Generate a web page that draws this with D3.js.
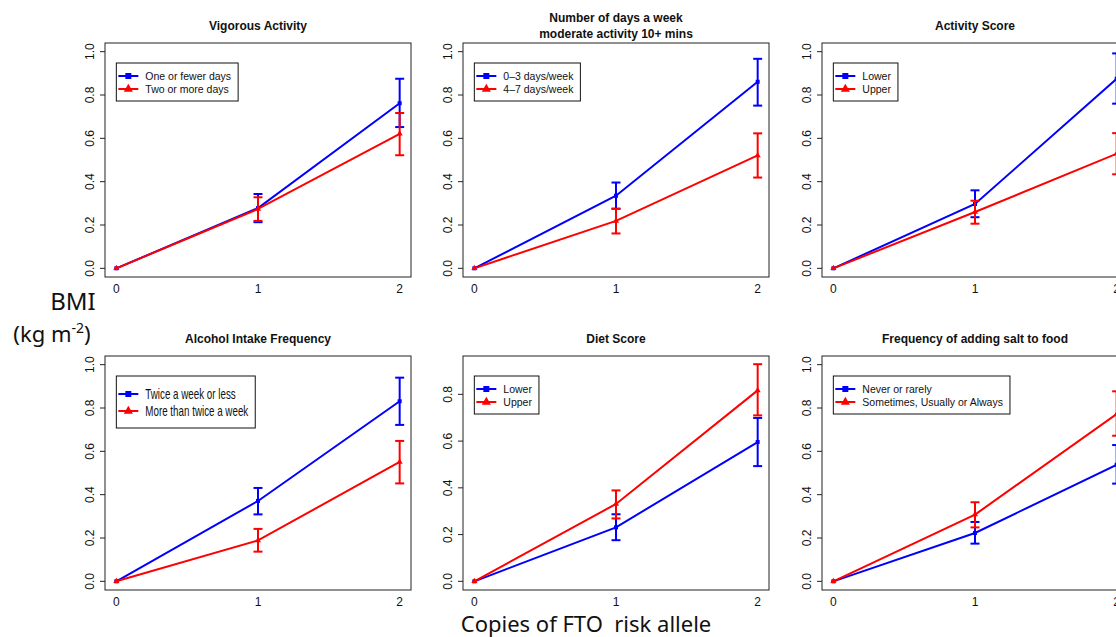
<!DOCTYPE html>
<html>
<head>
<meta charset="utf-8">
<script src="https://cdn.jsdelivr.net/npm/d3@7"></script>
<style>
  body { margin: 0; background: #fff; }
  svg { display: block; }
</style>
</head>
<body>
<div id="chart"></div>
<script>
// panel data (row by row)
const titles = [
  ["Vigorous Activity"],
  ["Number of days a week", "moderate activity 10+ mins"],
  ["Activity Score"],
  ["Alcohol Intake Frequency"],
  ["Diet Score"],
  ["Frequency of adding salt to food"]
];
const blueLabels = ["One or fewer days", "0\u20133 days/week", "Lower", "Twice a week or less", "Lower", "Never or rarely"];
const redLabels = ["Two or more days", "4\u20137 days/week", "Upper", "More than twice a week", "Upper", "Sometimes, Usually or Always"];

const copies = [0, 1, 2];
const blueMean = [[0, 0.278, 0.762], [0, 0.335, 0.861], [0, 0.297, 0.875], [0, 0.371, 0.831], [0, 0.231, 0.596], [0, 0.223, 0.538]];
const blueLow  = [[0, 0.213, 0.652], [0, 0.275, 0.751], [0, 0.236, 0.760], [0, 0.309, 0.722], [0, 0.176, 0.493], [0, 0.174, 0.451]];
const blueHigh = [[0, 0.343, 0.875], [0, 0.396, 0.967], [0, 0.360, 0.992], [0, 0.431, 0.940], [0, 0.287, 0.699], [0, 0.274, 0.629]];
const redMean  = [[0, 0.274, 0.621], [0, 0.219, 0.521], [0, 0.260, 0.529], [0, 0.189, 0.551], [0, 0.331, 0.817], [0, 0.308, 0.772]];
const redLow   = [[0, 0.219, 0.522], [0, 0.161, 0.419], [0, 0.206, 0.434], [0, 0.137, 0.452], [0, 0.269, 0.710], [0, 0.249, 0.672]];
const redHigh  = [[0, 0.328, 0.717], [0, 0.275, 0.623], [0, 0.312, 0.624], [0, 0.242, 0.648], [0, 0.389, 0.929], [0, 0.365, 0.877]];

const yLimits = [[0, 1], [0, 1], [0, 1], [0, 1], [0, 0.927], [0, 1]];
const yTickValues = [0, 0.2, 0.4, 0.6, 0.8, 1.0];

const W = 1116, H = 637;
const boxLeft = [105, 463, 822];
const boxTop = [43, 356];
const boxW = 306, boxH = 234;

const svg = d3.select("#chart").append("svg")
    .attr("width", W)
    .attr("height", H)
    .style("font-family", "'Liberation Sans', Arial, Helvetica, sans-serif");

// R style: pad range 4% each side
function rPad(lim) {
  const d = (lim[1] - lim[0]) * 0.04;
  return [lim[0] - d, lim[1] + d];
}

const triangle = d3.symbol().type(d3.symbolTriangle);
const square = d3.symbol().type(d3.symbolSquare);

titles.forEach((title, i) => {
  const col = i % 3, row = Math.floor(i / 3);
  const left = boxLeft[col], top = boxTop[row];

  const x = d3.scaleLinear().domain(rPad([0, 2])).range([left, left + boxW]);
  const y = d3.scaleLinear().domain(rPad(yLimits[i])).range([top + boxH, top]);

  const g = svg.append("g");

  // box
  g.append("rect")
      .attr("x", left).attr("y", top)
      .attr("width", boxW).attr("height", boxH)
      .attr("fill", "none")
      .attr("stroke", "#222")
      .attr("stroke-width", 1);

  // y axis
  const yTicks = yTickValues.filter(v => v <= yLimits[i][1] + 1e-9);
  const yAxis = g.append("g")
      .attr("transform", `translate(${left},0)`)
      .call(d3.axisLeft(y).tickValues(yTicks).tickFormat(d3.format(".1f")).tickSize(5).tickPadding(10));
  yAxis.select(".domain").remove();
  yAxis.selectAll("line").attr("stroke", "#222");
  yAxis.selectAll("text")
      .attr("font-size", "12px")
      .attr("fill", "#111")
      .attr("text-anchor", "middle")
      .attr("dy", null)
      .attr("transform", d => `translate(-15,${y(d)}) rotate(-90) translate(0,0)`)
      .attr("x", 0).attr("y", 0)
      .attr("dominant-baseline", "central");
  yAxis.selectAll(".tick").attr("transform", null);
  yAxis.selectAll(".tick line").attr("y1", d => y(d)).attr("y2", d => y(d));

  // x labels (no ticks)
  g.selectAll(".xlab")
    .data(copies)
    .join("text")
      .attr("x", d => x(d))
      .attr("y", top + boxH + 16)
      .attr("text-anchor", "middle")
      .attr("font-size", "12px")
      .attr("fill", "#111")
      .text(d => d);

  // title
  const titleBase = title.length > 1 ? [top - 21, top - 5] : [top - 13];
  title.forEach((t, k) => {
    g.append("text")
        .attr("x", left + boxW / 2)
        .attr("y", titleBase[k])
        .attr("text-anchor", "middle")
        .attr("font-size", "12px")
        .attr("font-weight", "bold")
        .attr("fill", "#111")
        .text(t);
  });

  const line = d3.line().x((d, j) => x(copies[j])).y(d => y(d));

  const series = [
    { mean: blueMean[i], low: blueLow[i], high: blueHigh[i], color: "#0000ff", sym: square, size: 16 },
    { mean: redMean[i], low: redLow[i], high: redHigh[i], color: "#ff0000", sym: triangle, size: 16 }
  ];

  series.forEach(s => {
    g.append("path")
        .datum(s.mean)
        .attr("fill", "none")
        .attr("stroke", s.color)
        .attr("stroke-width", 2)
        .attr("d", line);

    const idx = copies.filter((c, j) => s.high[j] > s.low[j]);
    const eb = g.append("g").attr("stroke", s.color).attr("stroke-width", 2);
    idx.forEach(j => {
      eb.append("line").attr("x1", x(j)).attr("x2", x(j)).attr("y1", y(s.low[j])).attr("y2", y(s.high[j]));
      eb.append("line").attr("x1", x(j) - 4.5).attr("x2", x(j) + 4.5).attr("y1", y(s.low[j])).attr("y2", y(s.low[j]));
      eb.append("line").attr("x1", x(j) - 4.5).attr("x2", x(j) + 4.5).attr("y1", y(s.high[j])).attr("y2", y(s.high[j]));
    });

    g.selectAll(null)
      .data(s.mean)
      .join("path")
        .attr("d", s.sym.size(s.size))
        .attr("transform", (d, j) => `translate(${x(copies[j])},${y(d)})`)
        .attr("fill", s.color);
  });

  // legend
  const big = i === 3;
  const lx = x(0), ly = top + 20;
  const rowGap = big ? 17 : 13;
  const firstRow = big ? 18 : 13;
  const lg = g.append("g");
  const box = lg.append("rect")
      .attr("fill", "#fff")
      .attr("stroke", "#111")
      .attr("stroke-width", 1);
  const items = [
    { label: blueLabels[i], color: "#0000ff", sym: square, size: 36 },
    { label: redLabels[i], color: "#ff0000", sym: triangle, size: 36 }
  ];
  let maxW = 0;
  items.forEach((it, k) => {
    const yy = ly + firstRow + k * rowGap;
    lg.append("line")
        .attr("x1", lx + 2).attr("x2", lx + 22)
        .attr("y1", yy).attr("y2", yy)
        .attr("stroke", it.color).attr("stroke-width", 2);
    lg.append("path")
        .attr("d", it.sym.size(it.size))
        .attr("transform", `translate(${lx + 12},${yy})`)
        .attr("fill", it.color);
    const t = lg.append("text")
        .attr("x", 0)
        .attr("y", 0)
        .attr("font-size", big ? "14px" : "10.5px")
        .attr("fill", "#111")
        .attr("dominant-baseline", "central")
        .attr("transform", big ? `translate(${lx + 29},${yy}) scale(0.7,1)` : `translate(${lx + 29},${yy})`)
        .text(it.label);
    const w = t.node().getComputedTextLength() * (big ? 0.7 : 1);
    maxW = Math.max(maxW, w);
  });
  box.attr("x", lx).attr("y", ly)
     .attr("width", 29 + maxW + 7)
     .attr("height", big ? 52 : 38);
});

// shared axis titles
const yt = svg.append("g")
    .attr("font-family", "'Noto Sans', 'Open Sans', sans-serif")
    .attr("fill", "#111");
yt.append("text")
    .attr("x", 73).attr("y", 310)
    .attr("text-anchor", "middle")
    .attr("font-size", "24px")
    .text("BMI");
const unit = yt.append("text")
    .attr("x", 52).attr("y", 342)
    .attr("text-anchor", "middle")
    .attr("font-size", "22px");
unit.append("tspan").text("(kg m");
unit.append("tspan").attr("font-size", "14px").attr("dy", -9).text("-2");
unit.append("tspan").attr("dy", 9).text(")");

svg.append("text")
    .attr("x", 586).attr("y", 632)
    .attr("text-anchor", "middle")
    .attr("font-family", "'Noto Sans', 'Open Sans', sans-serif")
    .attr("font-size", "22px")
    .attr("fill", "#111")
    .style("white-space", "pre")
    .text("Copies of FTO  risk allele");
</script>
</body>
</html>
